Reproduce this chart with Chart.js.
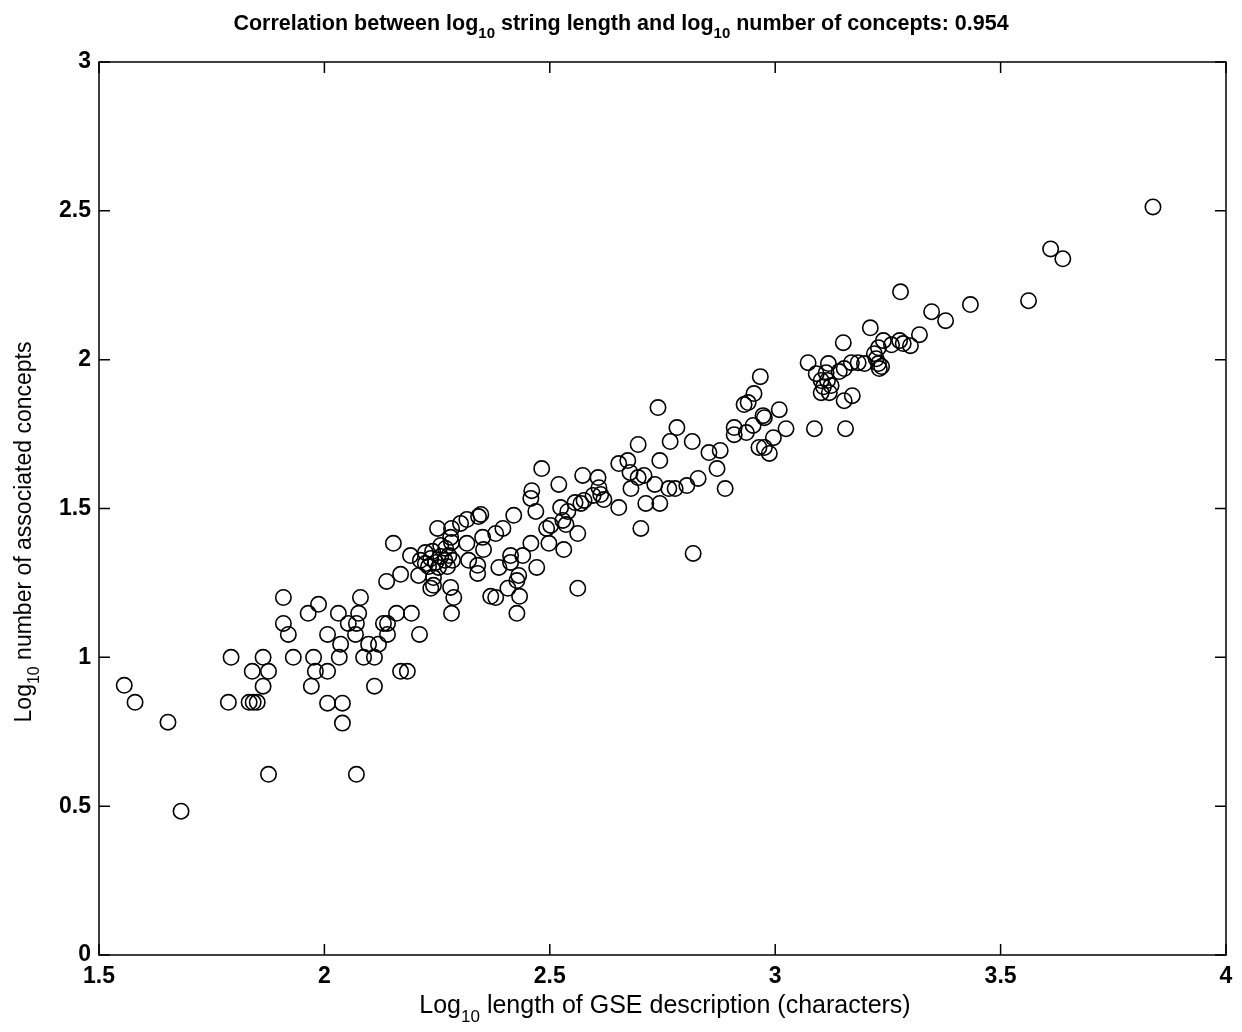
<!DOCTYPE html>
<html>
<head>
<meta charset="utf-8">
<script src="https://cdn.jsdelivr.net/npm/chart.js@4.4.1/dist/chart.umd.min.js"></script>
<style>
  html, body { margin: 0; padding: 0; background: #fff; }
  #wrap { width: 1242px; height: 1032px; }
</style>
</head>
<body>
<div id="wrap"><canvas id="chart1"></canvas></div>
<script>
const xTicks = [1.5, 2, 2.5, 3, 3.5, 4];
const yTicks = [0, 0.5, 1, 1.5, 2, 2.5, 3];

// log10 string length of each GSE description
const logLength = [
  1.556, 1.580, 1.653, 1.682, 1.787, 1.793, 1.833, 1.842, 1.851, 1.840, 1.864, 1.876, 1.864, 1.876, 1.909, 1.909, 1.920, 1.931,
  1.964, 1.987, 1.976, 1.980, 2.007, 1.971, 2.007, 2.007, 2.031, 2.036, 2.033, 2.040, 2.040, 2.071, 2.053, 2.071, 2.069, 2.076, 2.080, 2.087,
  2.098, 2.111, 2.111, 2.120, 2.131, 2.140, 2.140, 2.138, 2.153, 2.160, 2.169, 2.169, 2.184, 2.193, 2.191, 2.211,
  2.209, 2.242, 2.242, 2.236, 2.280, 2.287, 2.282, 2.224, 2.251, 2.282, 2.302, 2.316, 2.342, 2.347, 2.280, 2.282, 2.316, 2.351, 2.353, 2.380, 2.396, 2.420,
  2.213, 2.224, 2.236, 2.247, 2.258, 2.267, 2.276, 2.284, 2.231, 2.253, 2.273, 2.269, 2.258, 2.240,
  2.320, 2.340, 2.340, 2.387, 2.413, 2.413, 2.440, 2.471, 2.431, 2.427, 2.407, 2.369, 2.380, 2.433, 2.427,
  2.458, 2.498, 2.531, 2.493, 2.502, 2.529, 2.536, 2.562, 2.524, 2.540, 2.469, 2.460, 2.458, 2.482, 2.520, 2.573, 2.607, 2.596, 2.576, 2.569, 2.556, 2.609, 2.613, 2.620, 2.562,
  2.653, 2.653, 2.673, 2.678, 2.696, 2.709, 2.680, 2.696, 2.733, 2.713, 2.744, 2.764, 2.744, 2.702, 2.740, 2.782, 2.767, 2.816, 2.818, 2.778, 2.804, 2.829,
  2.853, 2.878, 2.871, 2.889, 2.909, 2.909, 2.936, 2.951, 2.931, 2.940, 2.953, 2.967, 2.973, 2.976, 3.009, 3.024, 2.964, 2.976, 2.987, 2.996,
  3.073, 3.087, 3.156, 3.153, 3.171, 3.091, 3.102, 3.116, 3.107, 3.124, 3.102, 3.120, 3.113, 3.142, 3.153, 3.118, 3.169, 3.184, 3.198,
  3.220, 3.229, 3.229, 3.231, 3.224, 3.236, 3.151, 3.211, 3.240, 3.258, 3.276, 3.284, 3.300, 3.278,
  3.320, 3.347, 3.378, 3.433, 3.562, 3.611, 3.638, 3.838
];

// log10 number of associated concepts
const logConcepts = [
  0.906, 0.849, 0.782, 0.483, 0.849, 1.000, 0.849, 0.849, 0.849, 0.953, 1.000, 0.953, 0.903, 0.607, 1.201, 1.114, 1.077, 1.000,
  1.148, 1.178, 1.000, 0.953, 0.953, 0.903, 1.077, 0.846, 1.148, 1.044, 1.000, 0.846, 0.779, 0.607, 1.114, 1.114, 1.077, 1.148, 1.201, 1.000,
  1.044, 1.000, 0.903, 1.044, 1.114, 1.114, 1.077, 1.255, 1.383, 1.148, 1.279, 0.953, 0.953, 1.148, 1.342, 1.077,
  1.275, 1.268, 1.242, 1.232, 1.235, 1.201, 1.148, 1.352, 1.433, 1.433, 1.450, 1.463, 1.473, 1.480, 1.403, 1.386, 1.383, 1.403, 1.362, 1.416, 1.433, 1.477,
  1.326, 1.315, 1.332, 1.319, 1.339, 1.326, 1.342, 1.326, 1.305, 1.302, 1.305, 1.366, 1.376, 1.356,
  1.326, 1.309, 1.282, 1.302, 1.342, 1.319, 1.342, 1.302, 1.275, 1.258, 1.232, 1.205, 1.201, 1.205, 1.148,
  1.383, 1.383, 1.362, 1.433, 1.443, 1.460, 1.446, 1.416, 1.503, 1.490, 1.490, 1.560, 1.534, 1.634, 1.581, 1.611, 1.604, 1.544, 1.527, 1.517, 1.520, 1.570, 1.547, 1.530, 1.232,
  1.503, 1.651, 1.661, 1.621, 1.604, 1.611, 1.567, 1.715, 1.581, 1.517, 1.517, 1.567, 1.661, 1.433, 1.839, 1.772, 1.725, 1.725, 1.349, 1.567, 1.577, 1.601,
  1.688, 1.695, 1.634, 1.567, 1.772, 1.748, 1.755, 1.779, 1.849, 1.856, 1.886, 1.943, 1.812, 1.805, 1.832, 1.768, 1.705, 1.705, 1.685, 1.738,
  1.990, 1.768, 1.768, 1.862, 1.879, 1.953, 1.930, 1.930, 1.909, 1.913, 1.889, 1.889, 1.956, 1.960, 1.970, 1.987, 1.990, 1.990, 1.987,
  2.020, 2.040, 1.987, 1.970, 2.003, 1.977, 2.057, 2.107, 2.064, 2.050, 2.064, 2.054, 2.047, 2.228,
  2.084, 2.161, 2.131, 2.185, 2.198, 2.372, 2.339, 2.513
];

const points = logLength.map((x, i) => ({ x: x, y: logConcepts[i] }));

// draws text runs, some of them as subscripts
function drawRuns(ctx, runs, x, y, size, bold, align) {
  const big = (bold ? 'bold ' : '') + size + 'px "Liberation Sans", Arial, sans-serif';
  const small = (bold ? 'bold ' : '') + Math.round(size * 0.68) + 'px "Liberation Sans", Arial, sans-serif';
  let total = 0;
  runs.forEach(r => { ctx.font = r[1] ? small : big; total += ctx.measureText(r[0]).width; });
  let cx = align === 'center' ? x - total / 2 : x;
  ctx.textAlign = 'left';
  ctx.textBaseline = 'alphabetic';
  runs.forEach(r => {
    ctx.font = r[1] ? small : big;
    ctx.fillText(r[0], cx, r[1] ? y + size * 0.35 : y);
    cx += ctx.measureText(r[0]).width;
  });
}

const matlabFrame = {
  id: 'matlabFrame',
  afterDraw(chart) {
    const ctx = chart.ctx;
    const a = chart.chartArea;
    const xs = chart.scales.x, ys = chart.scales.y;
    ctx.save();
    ctx.strokeStyle = '#000';
    ctx.lineWidth = 1.5;
    ctx.strokeRect(a.left, a.top, a.right - a.left, a.bottom - a.top);
    // inward ticks on all four sides
    ctx.beginPath();
    xTicks.forEach(v => {
      const px = xs.getPixelForValue(v);
      ctx.moveTo(px, a.bottom); ctx.lineTo(px, a.bottom - 11);
      ctx.moveTo(px, a.top); ctx.lineTo(px, a.top + 11);
    });
    yTicks.forEach(v => {
      const py = ys.getPixelForValue(v);
      ctx.moveTo(a.left, py); ctx.lineTo(a.left + 11, py);
      ctx.moveTo(a.right, py); ctx.lineTo(a.right - 11, py);
    });
    ctx.stroke();

    ctx.fillStyle = '#000';
    drawRuns(ctx, [['Correlation between log', false], ['10', true], [' string length and log', false], ['10', true], [' number of concepts: 0.954', false]],
      621, 30, 21.5, true, 'center');
    drawRuns(ctx, [['Log', false], ['10', true], [' length of GSE description (characters)', false]],
      665, 1013, 25, false, 'center');
    ctx.translate(31, 532);
    ctx.rotate(-Math.PI / 2);
    drawRuns(ctx, [['Log', false], ['10', true], [' number of associated concepts', false]],
      0, 0, 23, false, 'center');
    ctx.restore();
  }
};

new Chart(document.getElementById('chart1').getContext('2d'), {
  type: 'scatter',
  data: {
    datasets: [{
      data: points,
      pointStyle: 'circle',
      pointRadius: 7.7,
      pointBorderWidth: 1.6,
      pointBackgroundColor: 'rgba(0,0,0,0)',
      pointBorderColor: '#000'
    }]
  },
  options: {
    responsive: true,
    maintainAspectRatio: false,
    animation: false,
    layout: { padding: { top: 62, right: 16, left: 0, bottom: 0 } },
    plugins: {
      legend: { display: false },
      tooltip: { enabled: false }
    },
    scales: {
      x: {
        type: 'linear',
        min: 1.5,
        max: 4,
        afterBuildTicks: s => { s.ticks = xTicks.map(v => ({ value: v })); },
        afterFit: s => { s.height = 77; },
        grid: { display: false, drawTicks: false },
        border: { display: false },
        ticks: {
          padding: 8,
          color: '#000',
          callback: v => String(v),
          font: { family: '"Liberation Sans", Arial, sans-serif', size: 23, weight: 'bold' },
          maxRotation: 0
        }
      },
      y: {
        type: 'linear',
        min: 0,
        max: 3,
        afterBuildTicks: s => { s.ticks = yTicks.map(v => ({ value: v })); },
        afterFit: s => { s.width = 99; },
        grid: { display: false, drawTicks: false },
        border: { display: false },
        ticks: {
          padding: 8,
          color: '#000',
          callback: v => String(v),
          font: { family: '"Liberation Sans", Arial, sans-serif', size: 23, weight: 'bold' }
        }
      }
    }
  },
  plugins: [matlabFrame]
});
</script>
</body>
</html>
